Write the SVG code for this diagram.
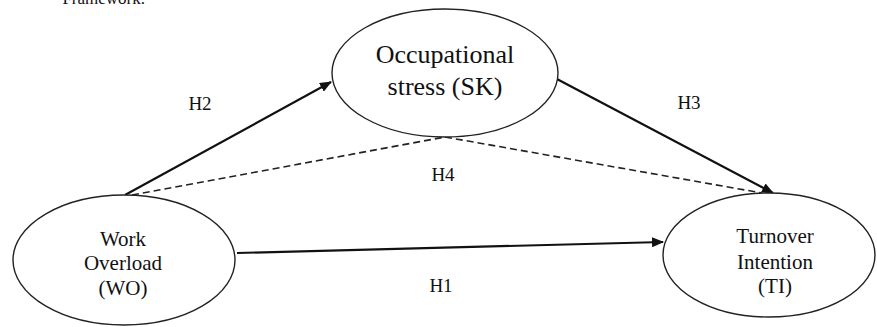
<svg xmlns="http://www.w3.org/2000/svg" width="877" height="327" viewBox="0 0 877 327">
<style>
.node{fill:#fff;stroke:#222;stroke-width:1.4}
.lbl{font-family:"Liberation Serif",serif;fill:#111;text-anchor:middle}
.big{font-size:26px}
.sm{font-size:21px}
.h{font-family:"Liberation Serif",serif;font-size:19px;fill:#111;text-anchor:middle}
.arr{stroke:#111;stroke-width:2.2;fill:none;marker-end:url(#ah)}
.dash{stroke:#222;stroke-width:1.6;fill:none;stroke-dasharray:7 4}
</style>
<defs>
<marker id="ah" viewBox="0 0 12 10" refX="11" refY="5" markerWidth="12" markerHeight="10" markerUnits="userSpaceOnUse" orient="auto">
<path d="M0,0 L12,5 L0,10 Z" fill="#111"/>
</marker>
</defs>
<rect width="877" height="327" fill="#fff"/>
<text x="145" y="4" font-family="Liberation Serif,serif" font-size="17" text-anchor="end" fill="#111">Framework.</text>
<g id="connectors">
<line class="dash" x1="132" y1="195" x2="445" y2="137"/>
<line class="dash" x1="445" y1="137" x2="762" y2="193"/>
<line class="arr" x1="125" y1="195" x2="331" y2="82"/>
<line class="arr" x1="555" y1="78" x2="773" y2="193"/>
<line class="arr" x1="237" y1="253" x2="663" y2="242"/>
</g>
<g id="SK">
<ellipse class="node" cx="445" cy="73" rx="113" ry="64"/>
<text class="lbl big" x="445" y="63">Occupational</text>
<text class="lbl big" x="445" y="95">stress (SK)</text>
</g>
<g id="WO">
<ellipse class="node" cx="124" cy="260" rx="111" ry="65"/>
<text class="lbl sm" x="123" y="246">Work</text>
<text class="lbl sm" x="123" y="270">Overload</text>
<text class="lbl sm" x="123" y="295">(WO)</text>
</g>
<g id="TI">
<ellipse class="node" cx="769" cy="255" rx="106" ry="62"/>
<text class="lbl sm" x="775" y="243">Turnover</text>
<text class="lbl sm" x="775" y="269">Intention</text>
<text class="lbl sm" x="775" y="293">(TI)</text>
</g>
<g id="labels">
<text class="h" x="200" y="110">H2</text>
<text class="h" x="689" y="109">H3</text>
<text class="h" x="443" y="181">H4</text>
<text class="h" x="441" y="292">H1</text>
</g>
</svg>
